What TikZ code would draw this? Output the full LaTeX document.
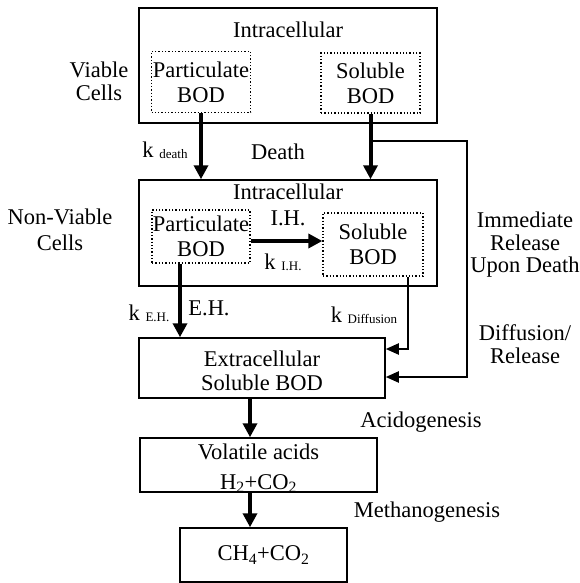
\documentclass[tikz,border=0pt]{standalone}
\usepackage{fontspec}
\setmainfont{Liberation Serif}
\usetikzlibrary{arrows.meta}
\newcommand{\rate}[1]{k \raisebox{-1pt}{\fontsize{13}{13}\selectfont #1}}

\begin{document}
\begin{tikzpicture}[x=1pt,y=-1pt,
  font=\fontsize{22.5}{25}\selectfont,
  cellbox/.style={draw,line width=1.5pt,inner sep=0pt},
  bodbox/.style={draw,dotted,line width=1.3pt,inner sep=0pt,align=center},
  flow/.style={line width=4pt,-{Triangle[width=14pt,length=14pt]}},
  leak/.style={line width=2pt,-{Triangle[width=11pt,length=13pt]}},
  txt/.style={align=center,inner sep=0pt}]
\useasboundingbox (0,0) rectangle (580,583);
% viable cells
\node[cellbox,minimum width=298,minimum height=115] (viable) at (288,65.5) {};
\node[txt] (vtitle) at (288,30) {Intracellular};
\node[bodbox,minimum width=99,minimum height=61] (vpart) at (201,82) {Particulate\\BOD};
\node[bodbox,minimum width=99,minimum height=60] (vsol) at (370.5,83) {Soluble\\BOD};
\node[txt,font=\fontsize{22.5}{23}\selectfont] (vlab) at (99,81) {Viable\\Cells};
% non-viable cells
\node[cellbox,minimum width=298,minimum height=106] (nonviable) at (288,233) {};
\node[txt] (ntitle) at (288,192) {Intracellular};
\node[bodbox,minimum width=98,minimum height=53] (npart) at (201,236.5) {Particulate\\BOD};
\node[bodbox,minimum width=100,minimum height=63] (nsol) at (373,244.5) {Soluble\\BOD};
\node[txt,font=\fontsize{22.5}{26}\selectfont] (nlab) at (60,230) {Non-Viable\\Cells};
% products
\node[cellbox,minimum width=246,minimum height=60] (extra) at (262,368) {};
\node[txt,font=\fontsize{22.5}{24}\selectfont] (extratxt) at (262,371) {Extracellular\\Soluble BOD};
\node[cellbox,minimum width=237,minimum height=54] (acids) at (258.5,465) {};
\node[txt,font=\fontsize{22.5}{30}\selectfont] (acidstxt) at (258.5,468) {Volatile acids\\H\textsubscript{2}+CO\textsubscript{2}};
\node[cellbox,minimum width=167,minimum height=54] (methane) at (263.5,555) {CH\textsubscript{4}+CO\textsubscript{2}};
% arrows
\coordinate (branch) at (370.5,141);
\coordinate (release) at (467,377);
\coordinate (ih) at (0,241);
\coordinate (diff) at (408,349);
\coordinate (eh) at (180,0);
\coordinate (trunk) at (250,0);
\draw[flow] (vpart.south) -- (vpart.south |- nonviable.north);
\draw[flow] (vsol.south) -- (vsol.south |- nonviable.north);
\draw[leak] (branch) -| (release) -- (release -| extra.east);
\draw[flow] (npart.east |- ih) -- (nsol.west |- ih);
\draw[leak] (nsol.south -| diff) -- (diff) -- (diff -| extra.east);
\draw[flow] (npart.south -| eh) -- (eh |- extra.north);
\draw[flow] (extra.south -| trunk) -- (trunk |- acids.north);
\draw[flow] (acids.south -| trunk) -- (trunk |- methane.north);
% labels
\node[txt] (kdeath) at (165,150) {\rate{death}};
\node[txt] (death) at (278,152) {Death};
\node[txt] (ihlab) at (288,218) {I.H.};
\node[txt] (kih) at (283,262) {\rate{I.H.}};
\node[txt] (ehlab) at (209,308) {E.H.};
\node[txt] (keh) at (149,313) {\rate{E.H.}};
\node[txt] (kdiff) at (364,315) {\rate{Diffusion}};
\node[txt,font=\fontsize{22.5}{22.5}\selectfont] (immed) at (525,245) {Immediate\\Release\\Upon Death};
\node[txt,font=\fontsize{22.5}{22.5}\selectfont] (difflab) at (525,344) {Diffusion/\\Release};
\node[txt] (acido) at (421,422) {Acidogenesis};
\node[txt] (methano) at (427,512) {Methanogenesis};
\end{tikzpicture}
\end{document}
